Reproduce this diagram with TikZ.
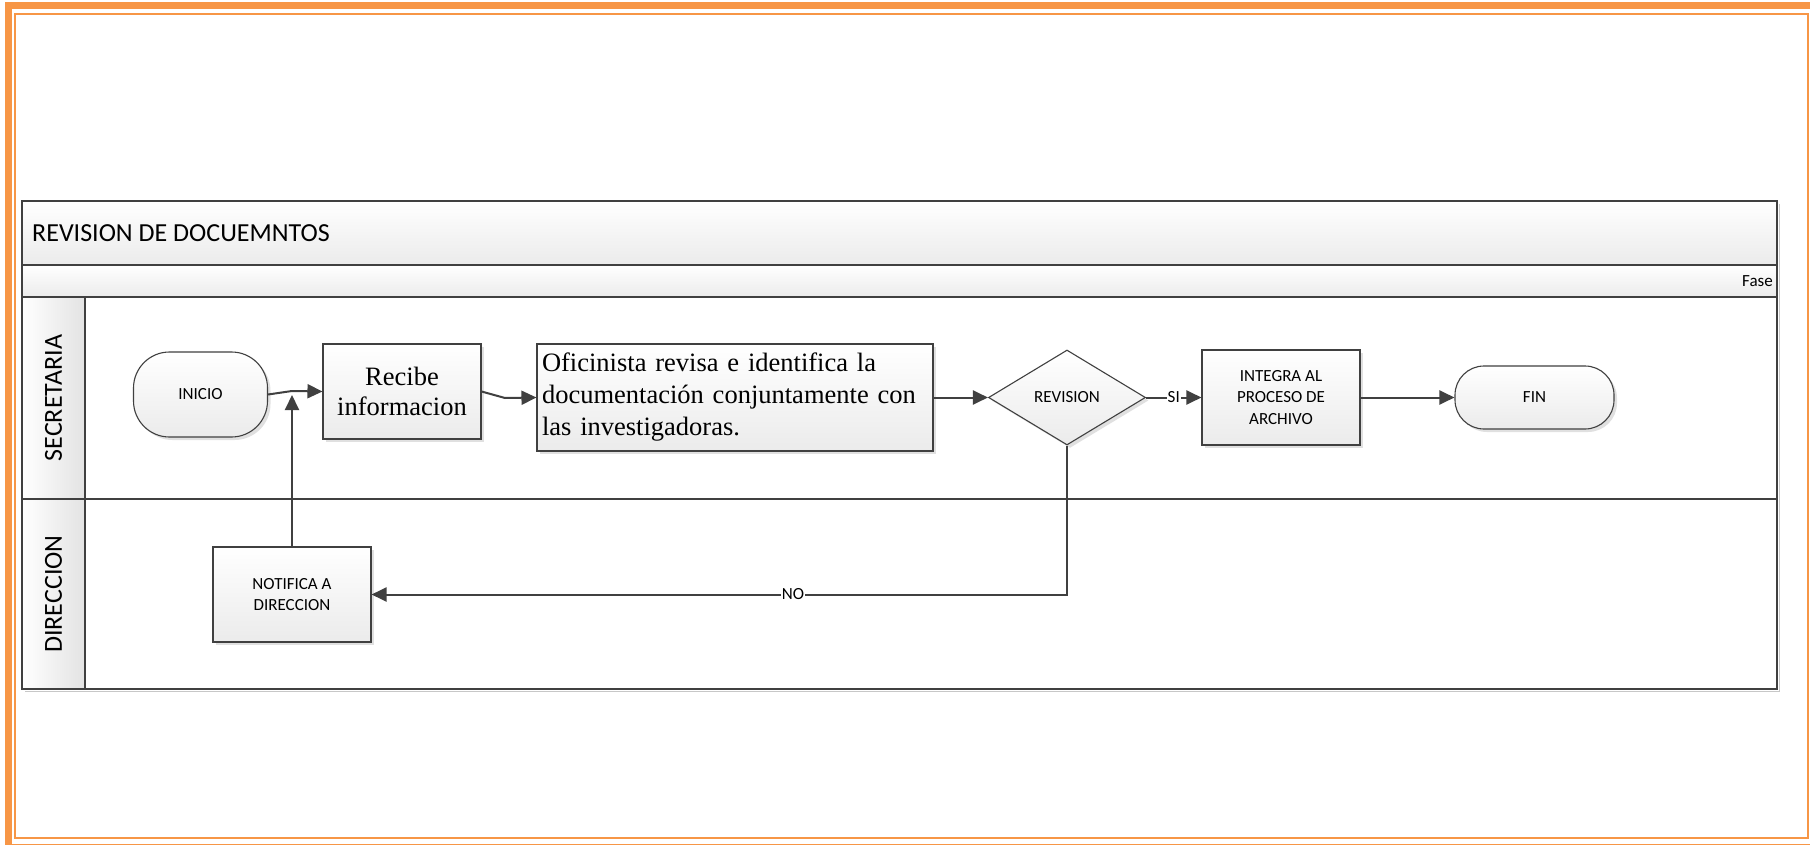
\documentclass[tikz,border=0pt]{standalone}
\usepackage{fontspec}
\setmainfont{Liberation Serif}
\setsansfont{Carlito}
\usetikzlibrary{arrows.meta,shapes.geometric,shadows}

\definecolor{framecol}{HTML}{F79646}
\definecolor{ink}{HTML}{404040}
\definecolor{shade}{HTML}{EBEBEB}
\definecolor{laneshade}{HTML}{E3E3E3}

\tikzset{
  boxshadow/.style={drop shadow={shadow xshift=3pt,shadow yshift=-3pt,fill=black!20,opacity=0.6}},
  shapebox/.style={draw=ink, line width=1.1pt, top color=white, bottom color=shade,
    boxshadow, inner sep=0pt, align=center},
  procbox/.style={shapebox, rectangle, minimum width=158pt, minimum height=95pt},
  termbox/.style={shapebox, rectangle},
  decbox/.style={shapebox, diamond, minimum width=157pt, minimum height=95pt},
  labfont/.style={font=\sffamily\fontsize{17}{21.5}\selectfont},
  serifbig/.style={font=\rmfamily\fontsize{26.5}{30}\selectfont},
  lanefont/.style={font=\sffamily\fontsize{26}{30}\selectfont},
  conn/.style={draw=ink, line width=2pt, -{Triangle[length=15pt,width=14pt]}},
  lbl/.style={labfont, fill=white, inner sep=1pt},
  poolline/.style={draw=ink, line width=1.2pt}
}

\begin{document}
\begin{tikzpicture}[x=1pt,y=-1pt]
  \clip (0,0) rectangle (1810,845);
  \fill[white] (0,0) rectangle (1810,845);

  % page frame: thick outer band and thin inner rule
  \draw[framecol, line width=7pt] (8,6) rectangle (1818,847);
  \draw[framecol, line width=2pt] (15,14) rectangle (1808,838);

  % pool background: title band, phase band, lane headers
  \draw[black!22, line width=1.5pt] (1779.5,204) -- (1779.5,691.5) -- (25,691.5);
  \shade[top color=white, bottom color=shade] (22,201) rectangle (1777,265);
  \shade[top color=white, bottom color=shade] (22,265) rectangle (1777,297);
  \shade[left color=white, right color=laneshade] (22,297) rectangle (85,689);

  % pool rules
  \draw[poolline] (22,265) -- (1777,265);
  \draw[poolline] (22,297) -- (1777,297);
  \draw[poolline] (85,297) -- (85,689);
  \draw[poolline] (22,499) -- (1777,499);
  \draw[draw=ink, line width=2pt] (22,201) rectangle (1777,689);

  % pool texts
  \node[lanefont, anchor=west, inner sep=0pt] (title) at (32,233) {REVISION DE DOCUEMNTOS};
  \node[labfont, anchor=east, inner sep=0pt] (fase) at (1773,281) {Fase};
  \node[lanefont, rotate=90, inner sep=0pt] (lsec) at (53.5,398) {SECRETARIA};
  \node[lanefont, rotate=90, inner sep=0pt] (ldir) at (53.5,594) {DIRECCION};

  % flow shapes
  \node[termbox, labfont, minimum width=134pt, minimum height=85pt, rounded corners=36pt]
    (inicio) at (200.5,394.5) {INICIO};
  \node[procbox, serifbig] (recibe) at (402,391.5) {Recibe\\informacion};
  \node[procbox, minimum width=396pt, minimum height=107pt, text width=386pt, align=left,
    font=\rmfamily\fontsize{26.5}{32}\selectfont]
    (ofi) at (735,397.5) {Oficinista revisa e identifica la\\documentación conjuntamente con\\las investigadoras.};
  \node[decbox, labfont] (rev) at (1067,397.5) {REVISION};
  \node[procbox, labfont] (integ) at (1281,397.5) {INTEGRA AL\\PROCESO DE\\ARCHIVO};
  \node[termbox, labfont, minimum width=159pt, minimum height=63pt, rounded corners=29pt]
    (fin) at (1534.5,397.5) {FIN};
  \node[procbox, labfont] (notif) at (292,594.5) {NOTIFICA A\\DIRECCION};

  % connectors
  \coordinate (j1) at (292,391);
  \coordinate (j2) at (292,395);
  \coordinate (j3) at (505,398);
  \draw[conn] (inicio.east) -- (j1) -- (recibe.west);
  \draw[conn] (recibe.east) -- (j3) -- (ofi.west);
  \draw[conn] (ofi.east) -- (rev.west);
  \draw[conn] (rev.east) -- node[lbl] {SI} (integ.west);
  \draw[conn] (integ.east) -- (fin.west);
  \draw[conn] (rev.south) |- node[lbl, pos=0.697] {NO} (notif.east);
  \draw[conn] (notif.north) -- (j2);
\end{tikzpicture}
\end{document}
